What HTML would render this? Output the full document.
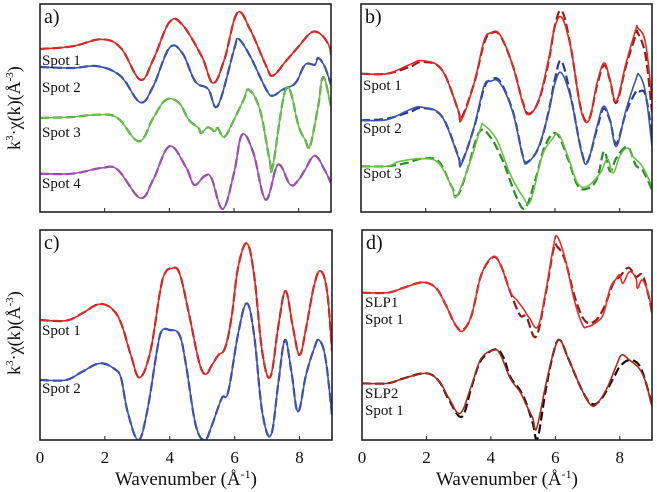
<!DOCTYPE html>
<html><head><meta charset="utf-8">
<style>
html,body{margin:0;padding:0;background:#fff;}
svg{display:block;font-family:"Liberation Serif",serif;}
</style></head>
<body>
<svg id="chart" width="657" height="492" viewBox="0 0 657 492"></svg>
<script>
// ---- data (k in Å^-1, chi values in arbitrary offset units) ----
const kA1 = [0,1,1.9,2.5,3.1,3.5,4.0,4.4,5.0,5.35,5.7,6.1,6.5,7.0,7.2,7.6,8.0,8.4,8.7,8.95,9];
const vA1 = [489,497,518,492,397,457,569,562,467,387,457,597,547,437,409,452,497,539,532,497,472];
const kA2 = [0,1,1.8,2.5,3.1,3.5,4.0,4.4,4.8,5.2,5.5,6.0,6.14,6.5,7.0,7.2,7.5,7.9,8.2,8.5,8.6,8.8,9];
const vA2 = [435,432,437,407,329,377,492,477,392,369,319,487,519,467,367,349,367,387,442,442,462,437,382];
const kA3 = [0,1,1.8,2.4,3.06,3.5,3.9,4.3,4.6,4.9,4.98,5.2,5.4,5.5,5.7,6.0,6.3,6.46,6.8,7.1,7.2,7.62,8.0,8.2,8.35,8.6,8.76,9.0];
const vA3 = [282,285,292,282,212,282,337,327,277,252,237,254,242,252,225,277,337,367,307,157,137,372,257,217,197,317,405,317];
const kA4 = [0,1,1.9,2.4,3.1,3.5,4.0,4.5,4.77,5.08,5.3,5.65,6.0,6.25,6.6,6.98,7.36,7.74,8.0,8.2,8.5,8.8,9.0];
const vA4 = [115,115,132,127,42,97,197,137,82,107,102,9,117,232,177,37,142,82,97,127,169,127,87];

const kB1 = [0,0.8,1.5,1.9,2.5,3.0,3.1,3.5,3.8,4.0,4.3,4.7,5.0,5.19,5.5,5.8,6.0,6.22,6.5,6.8,7.05,7.3,7.52,7.7,7.9,8.2,8.5,8.56,8.8,9.0];
const vB1 = [415,415,442,454,427,307,275,387,512,537,532,437,327,292,337,457,557,582,487,307,275,387,447,397,332,447,547,552,507,337];
const vB1d = [415,415,435,450,427,307,280,387,505,535,530,437,330,295,335,450,560,602,487,310,278,380,440,395,328,440,530,537,470,300];
const kB2 = [0,0.8,1.5,1.9,2.5,3.0,3.1,3.5,3.8,4.0,4.3,4.7,5.0,5.15,5.5,5.8,6.0,6.2,6.5,6.8,7.0,7.3,7.5,7.7,7.9,8.2,8.5,8.6,8.8,9.0];
const vB2 = [275,277,307,314,287,167,142,257,377,392,387,297,167,147,197,297,387,417,337,187,147,257,317,277,197,307,397,412,357,197];
const vB2d = [275,280,300,312,287,170,145,255,370,395,392,300,170,150,195,300,400,452,340,190,150,250,310,275,205,300,360,362,350,230];
const kB3 = [0,0.8,1.2,1.9,2.4,2.8,2.96,3.4,3.7,3.81,4.2,4.6,5.0,5.24,5.6,5.9,6.12,6.4,6.7,7.0,7.4,7.62,7.8,8.0,8.24,8.4,8.7,9.0];
const vB3 = [137,137,152,160,147,77,47,157,252,260,217,117,47,32,167,217,232,167,87,77,117,159,117,167,192,167,137,77];
const kB3d = [0,0.8,1.4,1.9,2.4,2.8,3.0,3.3,3.66,4.0,4.4,4.8,5.08,5.4,5.7,6.05,6.4,6.7,7.0,7.3,7.52,7.7,7.9,8.24,8.5,8.7,9.0];
const vB3d = [137,137,147,160,152,77,52,130,240,225,150,47,12,100,200,235,160,80,70,100,182,122,162,195,140,127,67];

const kC1 = [0,0.8,1.3,1.8,2.2,2.5,2.8,3.07,3.4,3.7,3.85,4.06,4.3,4.6,4.9,5.1,5.3,5.5,5.7,5.9,6.1,6.37,6.6,6.85,7.1,7.35,7.57,7.8,8.0,8.2,8.45,8.65,8.85,9.0];
const vC1 = [360,358,380,407,395,350,255,187,265,445,500,515,500,375,235,197,225,255,275,365,515,590,495,265,190,345,447,335,255,335,465,507,445,265];
const kC2 = [0,0.8,1.3,1.85,2.3,2.5,2.7,3.03,3.3,3.6,3.75,4.0,4.3,4.5,4.8,5.08,5.3,5.6,5.8,6.1,6.37,6.6,6.85,7.12,7.35,7.55,7.75,7.95,8.2,8.45,8.6,8.8,9.0];
const vC2 = [180,180,205,230,213,185,85,0,85,265,327,330,315,225,45,0,45,125,145,315,410,315,85,15,175,300,205,85,195,275,300,245,75];

const kD1 = [0,0.8,1.3,1.9,2.3,2.6,2.9,3.13,3.4,3.7,4.06,4.3,4.6,4.8,5.0,5.2,5.46,5.7,5.95,6.06,6.3,6.6,6.85,7.0,7.3,7.5,7.7,7.9,8.0,8.1,8.3,8.5,8.55,8.7,8.9,9.0];
const vD1 = [442,442,457,473,455,405,345,327,375,495,550,525,445,420,395,365,340,445,585,610,545,415,345,340,355,380,455,485,495,470,505,485,455,480,435,380];
const kD1d = [0,0.8,1.3,1.9,2.3,2.6,2.9,3.13,3.4,3.7,4.06,4.3,4.6,4.9,5.1,5.4,5.7,5.95,6.06,6.3,6.6,6.9,7.2,7.5,7.8,8.0,8.27,8.5,8.7,8.9,9.0];
const vD1d = [442,442,457,473,455,405,345,330,375,495,548,525,445,375,370,310,440,575,580,540,430,360,355,395,470,490,517,490,495,430,380];
const kD2 = [0,0.8,1.3,2.0,2.4,2.7,3.05,3.4,3.7,4.1,4.3,4.6,4.9,5.1,5.3,5.42,5.7,5.95,6.14,6.4,6.8,7.1,7.3,7.6,7.9,8.06,8.3,8.6,8.8,9.0];
const vD2 = [170,170,185,200,175,125,80,165,245,270,255,185,145,105,65,35,165,265,300,245,155,105,110,155,225,255,240,215,175,100];
const kD2d = [0,0.8,1.3,2.0,2.4,2.7,3.1,3.4,3.7,4.15,4.4,4.6,4.9,5.1,5.3,5.45,5.7,5.95,6.14,6.4,6.8,7.1,7.4,7.8,8.0,8.3,8.6,8.8,9.0];
const vD2d = [170,170,185,200,175,120,70,160,240,272,245,190,150,110,50,5,150,265,300,245,155,110,120,185,220,240,225,175,105];

const xTicks = [0,2,4,6,8];

const NS = "http://www.w3.org/2000/svg";
const svg = document.getElementById('chart');
function mk(tag, attrs, parent){
  const e = document.createElementNS(NS, tag);
  for (const a in attrs) e.setAttribute(a, attrs[a]);
  (parent||svg).appendChild(e);
  return e;
}
const panels = {
  a:{x0:40,x1:331,top:4,bottom:212},
  b:{x0:361,x1:652,top:4,bottom:212},
  c:{x0:40,x1:332,top:230,bottom:440},
  d:{x0:362,x1:652,top:230,bottom:440}
};
function xs(p,k){ return p.x0 + k/9*(p.x1-p.x0); }
function ys(p,v){ return p.bottom - v/3; }
function pathD(p, ks, vs){
  const pts = ks.map((k,i)=>[xs(p,k), ys(p,vs[i])]);
  let d = "M"+pts[0][0].toFixed(1)+","+pts[0][1].toFixed(1);
  for (let i=0;i<pts.length-1;i++){
    const p0 = pts[Math.max(0,i-1)], p1 = pts[i], p2 = pts[i+1], p3 = pts[Math.min(pts.length-1,i+2)];
    const t = 0.18;
    const c1 = [p1[0]+(p2[0]-p0[0])*t, p1[1]+(p2[1]-p0[1])*t];
    const c2 = [p2[0]-(p3[0]-p1[0])*t, p2[1]-(p3[1]-p1[1])*t];
    d += " C"+c1[0].toFixed(1)+","+c1[1].toFixed(1)+" "+c2[0].toFixed(1)+","+c2[1].toFixed(1)+" "+p2[0].toFixed(1)+","+p2[1].toFixed(1);
  }
  return d;
}
const defs = mk('defs',{});
for (const id in panels){
  const p = panels[id];
  const cp = mk('clipPath',{id:'clip-'+id}, defs);
  mk('rect',{x:p.x0,y:p.top,width:p.x1-p.x0,height:p.bottom-p.top}, cp);
}
function series(id, ks, vs, color, dashed, name){
  const p = panels[id];
  const e = mk('path',{d:pathD(p,ks,vs), fill:'none', stroke:color, 'stroke-width': dashed?2.2:1.6,
    'stroke-dasharray': dashed?'9,4':'none', 'clip-path':'url(#clip-'+id+')','stroke-linejoin':'round'});
  
  
}
// panel a
series('a',kA1,vA1,'#9e1a1a',true,'a-spot1-data');
series('a',kA1,vA1,'#e42626',false,'a-spot1-fit');
series('a',kA2,vA2,'#2b3a8f',true,'a-spot2-data');
series('a',kA2,vA2,'#3c55b5',false,'a-spot2-fit');
series('a',kA3,vA3,'#2a8c2a',true,'a-spot3-data');
series('a',kA3,vA3,'#6cc04a',false,'a-spot3-fit');
series('a',kA4,vA4,'#7a3a90',true,'a-spot4-data');
series('a',kA4,vA4,'#a050b0',false,'a-spot4-fit');
// panel b
series('b',kB1,vB1d,'#9e1a1a',true,'b-spot1-data');
series('b',kB1,vB1,'#e42626',false,'b-spot1-fit');
series('b',kB2,vB2d,'#2b3a8f',true,'b-spot2-data');
series('b',kB2,vB2,'#3c55b5',false,'b-spot2-fit');
series('b',kB3d,vB3d,'#2a8c2a',true,'b-spot3-data');
series('b',kB3,vB3,'#6cc04a',false,'b-spot3-fit');
// panel c
series('c',kC1,vC1,'#9e1a1a',true,'c-spot1-data');
series('c',kC1,vC1,'#e42626',false,'c-spot1-fit');
series('c',kC2,vC2,'#2b3a8f',true,'c-spot2-data');
series('c',kC2,vC2,'#3c55b5',false,'c-spot2-fit');
// panel d
series('d',kD1d,vD1d,'#8e1a1a',true,'d-slp1-data');
series('d',kD1,vD1,'#ee2a2a',false,'d-slp1-fit');
series('d',kD2d,vD2d,'#111111',true,'d-slp2-data');
series('d',kD2,vD2,'#b02a1a',false,'d-slp2-fit');

// frames, ticks
const letters = {a:'a)',b:'b)',c:'c)',d:'d)'};
for (const id in panels){
  const p = panels[id];
  const r = mk('rect',{x:p.x0,y:p.top,width:p.x1-p.x0,height:p.bottom-p.top,fill:'none',stroke:'#222','stroke-width':1.6});
  
  
  xTicks.forEach(k=>{
    if (k===0) return;
    const t = mk('line',{x1:xs(p,k),x2:xs(p,k),y1:p.bottom,y2:p.bottom-4,stroke:'#222','stroke-width':1});
    
    
  });
  const lt = mk('text',{x:p.x0+4,y:p.top+19,'font-size':20,fill:'#111'});
  lt.textContent = letters[id];
  
  
  if (id==='c'||id==='d'){
    xTicks.forEach(k=>{
      const tl = mk('text',{x:xs(p,k),y:463,'font-size':17,'text-anchor':'middle',fill:'#111'});
      tl.textContent = k;
      
      
    });
    const xt = mk('text',{x:(p.x0+p.x1)/2,y:485,'font-size':19,'text-anchor':'middle',fill:'#111'});
    xt.innerHTML = 'Wavenumber (Å<tspan dy="-7" font-size="12">-1</tspan><tspan dy="7">)</tspan>';
    
    
  }
}
// y titles
[[108,'y-axis-title-top'],[333,'y-axis-title-bottom']].forEach(([cy,nm])=>{
  const yt = mk('text',{x:0,y:0,'font-size':18,'text-anchor':'middle',fill:'#111',transform:'translate(20,'+cy+') rotate(-90)'});
  yt.innerHTML = 'k<tspan dy="-7" font-size="11">3</tspan><tspan dy="7">·χ(k)(Å</tspan><tspan dy="-7" font-size="11">-3</tspan><tspan dy="7">)</tspan>';
  
  
});
// spot labels
const labels = [
  [42,65,'Spot 1'],[42,92,'Spot 2'],[42,137,'Spot 3'],[42,188,'Spot 4'],
  [363,90,'Spot 1'],[363,133,'Spot 2'],[363,178,'Spot 3'],
  [42,335,'Spot 1'],[42,393,'Spot 2'],
  [365,307,'SLP1'],[365,324,'Spot 1'],[365,398,'SLP2'],[365,415,'Spot 1']
];
labels.forEach(([x,y,s])=>{
  const t = mk('text',{x:x,y:y,'font-size':15,fill:'#111'});
  t.textContent = s;
  
  
});
</script>
</body></html>
